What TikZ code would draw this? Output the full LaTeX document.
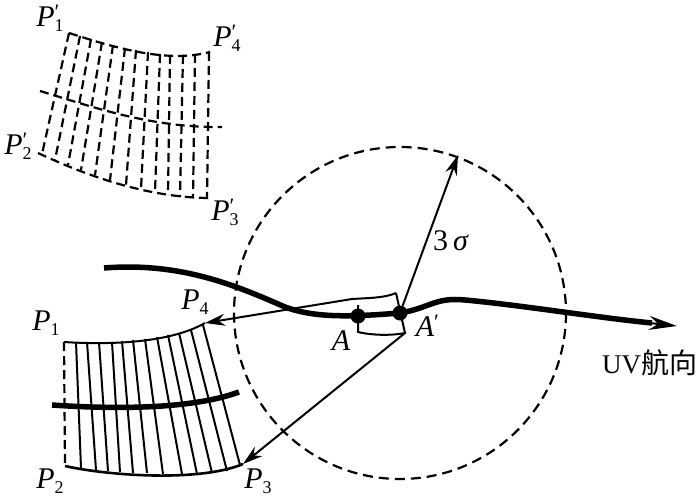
\documentclass[tikz,border=0pt]{standalone}
\usepackage{fontspec}
\setmainfont{Liberation Serif}
\newfontfamily\cjk{Noto Sans CJK SC}
\usetikzlibrary{arrows.meta,bending}
\newcommand{\Pl}[1]{\textit{P}\raisebox{-5pt}{\fontsize{18}{18}\selectfont #1}}
\newcommand{\Pq}[1]{\textit{P}\rlap{\raisebox{7pt}{\fontsize{22}{22}\selectfont\kern0pt ′}}\raisebox{-5pt}{\fontsize{18}{18}\selectfont #1}}
\tikzset{
  lbl/.style={inner sep=0pt,font=\fontsize{30}{30}\selectfont},
  thinl/.style={line width=2pt,black},
  gridl/.style={line width=2pt,black},
  dashl/.style={line width=2.2pt,dash pattern=on 9pt off 5pt},
  thick line/.style={line width=5.5pt,line cap=butt},
  tip/.style={-{Stealth[length=20pt,width=12pt]}},
  dot/.style={circle,fill=black,inner sep=0pt,minimum size=15pt}
}
\begin{document}
\begin{tikzpicture}[x=1pt,y=-1pt]
\useasboundingbox (0,0) rectangle (700,497);
% upper dashed grid
\draw[dashl] (69,33) .. controls (110,46) and (165,64) .. (210,52);
\draw[dashl] (38,153) .. controls (85,175) and (145,197) .. (207,198);
\draw[dashl] (40,91) .. controls (90,106) and (150,128) .. (222,127);
\foreach \xa/\ya/\xb/\yb in {69/33/42/154,80/36/55/160,91/39/68/165,102/42/81/170,113/45/95/175,125/48/110/180,136/50/126/185,148/52/141/189,160/54/155/192,170/55/168/195,183/55/180/197,195/54/193/198,209/52/207/199}{
  \draw[dashl] (\xa,\ya) -- (\xb,\yb);
}
% lower grid
\coordinate (p1) at (64,342);
\coordinate (p2) at (65,466);
\coordinate (p3) at (243,464);
\coordinate (p4) at (205,323);
\draw[gridl] (p1) .. controls (110,345) and (170,343) .. (p4);
\draw[line width=2.6pt] (p2) .. controls (110,476) and (200,482) .. (p3);
\draw[dashl] (p1) -- (p2);
\foreach \xa/\ya/\xb/\yb in {76/342/81/468,87/342/96/470,99/342/108/471,112/342/120/472,122/341/133/473,133/340/147/473,145/339/163/474,157/337/182/474,168/335/197/474,179/333/212/473,191/330/227/471,203/325/240/465}{
  \draw[gridl] (\xa,\ya) -- (\xb,\yb);
}
\draw[thick line] (52,405) .. controls (110,409) and (190,410) .. (239,392);
% circle
\coordinate (c) at (400,313);
\draw[line width=2.2pt,dash pattern=on 10pt off 6pt] (c) circle[radius=166];
% main track
\coordinate (trs) at (104,268);
\coordinate (tre) at (677,326);
\draw[line width=5.5pt] (trs) .. controls (180,262) and (235,285) .. (285,307)
  .. controls (315,318) and (350,317) .. (400,313)
  .. controls (430,308) and (435,297) .. (465,300)
  .. controls (520,305) and (600,318) .. (652,323);
\draw[-{Stealth[length=28pt,width=14pt]},line width=2pt] (645,322.5) -- (tre);
% fold and small shape
\coordinate (fs) at (352,299);
\coordinate (fa) at (396,293);
\coordinate (fb) at (405,333);
\coordinate (fc) at (358,332);
\coordinate (ft) at (358,305);
\draw[thinl] (fa) .. controls (385,298) and (368,298) .. (fs);
\draw[thinl] (fa) -- (fb) .. controls (390,336) and (370,335) .. (fc) -- (ft);
% arrows
\draw[thinl,tip] (fs) -- (p4);
\draw[thinl,tip] (fb) -- (p3);
\node[dot] (A) at (358,316) {};
\node[dot] (Ap) at (400,313) {};
\coordinate (top) at (458,155);
\draw[thinl,tip] (Ap) -- (top);
% labels
\node[lbl] (l1) at (46,323) {\Pl{1}};
\node[lbl] (l2) at (50,481) {\Pl{2}};
\node[lbl] (l3) at (258,481) {\Pl{3}};
\node[lbl] (l4) at (195,302) {\Pl{4}};
\node[lbl] (q1) at (50,18) {\Pq{1}};
\node[lbl] (q2) at (18,146) {\Pq{2}};
\node[lbl] (q3) at (225,212) {\Pq{3}};
\node[lbl] (q4) at (227,38) {\Pq{4}};
\node[lbl] (a) at (341,341) {\textit{A}};
\node[lbl] (b) at (425,326) {\textit{A}\rlap{\raisebox{7pt}{\fontsize{22}{22}\selectfont\kern0pt ′}}};
\node[lbl] (s) at (451,241) {3\,\textit{σ}};
\node[lbl,anchor=west] (uv) at (602,363) {{\fontsize{27}{27}\selectfont UV}{\cjk\fontsize{28}{28}\selectfont 航向}};
\end{tikzpicture}
\end{document}
